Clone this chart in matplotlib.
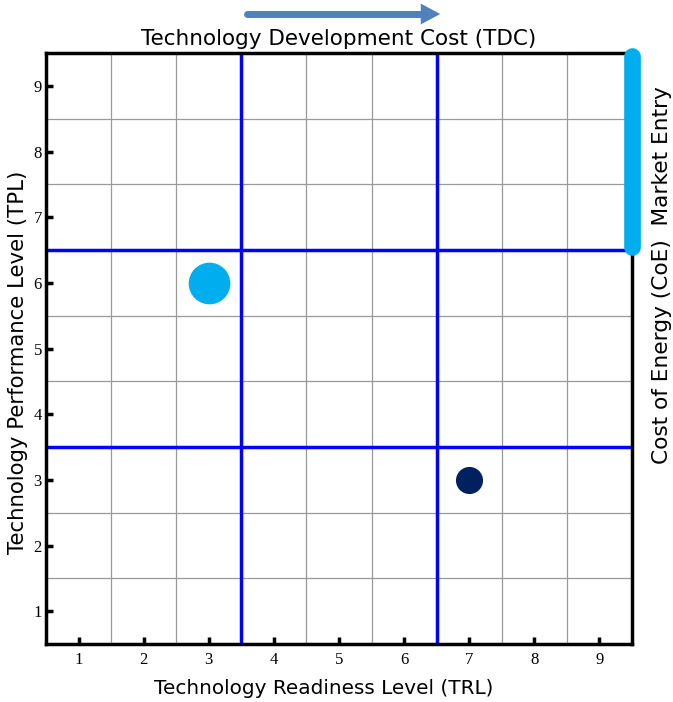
import numpy as np
import matplotlib.pyplot as plt

# data
trl = [3, 7]
tpl = [6, 3]
sizes = [40, 26]          # marker diameters in points
colors = ['#00AEEF', '#002060']
ticks = [1, 2, 3, 4, 5, 6, 7, 8, 9]
grid_pos = [1.5, 2.5, 3.5, 4.5, 5.5, 6.5, 7.5, 8.5]
bounds = [3.5, 6.5]

fig = plt.figure(figsize=(6.73, 7.02), dpi=100)
ax = fig.add_axes([46 / 673, 1 - 644 / 702, 586 / 673, 591 / 702])
ax.set_xlim(0.5, 9.5)
ax.set_ylim(0.5, 9.5)

# grid
for g in grid_pos:
    ax.axvline(g, color='#999999', lw=0.9, zorder=1)
    ax.axhline(g, color='#999999', lw=0.9, zorder=1)
for b in bounds:
    ax.axvline(b, color='#0000FF', lw=2.5, zorder=2)
    ax.axhline(b, color='#0000FF', lw=2.5, zorder=2)

for x, y, s, c in zip(trl, tpl, sizes, colors):
    ax.plot(x, y, 'o', ms=s * 0.75, color=c, mec='none', zorder=3)

for sp in ax.spines.values():
    sp.set_linewidth(2.5)
ax.set_xticks(ticks)
ax.set_yticks(ticks)
ax.tick_params(direction='in', length=5, width=2.5, labelsize=12)
ax.tick_params(axis='x', pad=6)
ax.tick_params(axis='y', pad=3)
for lab in ax.get_xticklabels() + ax.get_yticklabels():
    lab.set_family('Liberation Serif')

# axis labels placed by hand (slightly off-centre in the original)
fig.text(324 / 673, 1 - 688 / 702, 'Technology Readiness Level (TRL)',
         ha='center', va='center', fontsize=14.4)
fig.text(18 / 673, 1 - 362 / 702, 'Technology Performance Level (TPL)',
         rotation=90, ha='center', va='center', fontsize=15.3)
ax.set_title('Technology Development Cost (TDC)', fontsize=15.5, pad=6)

# arrow above title
fig.add_artist(plt.Line2D([247 / 673, 422 / 673], [1 - 14 / 702, 1 - 14 / 702],
                          color='#4F81BD', lw=5, solid_capstyle='round'))
ax.annotate('', xy=(443 / 673, 1 - 14 / 702), xytext=(412 / 673, 1 - 14 / 702),
            xycoords='figure fraction',
            arrowprops=dict(arrowstyle='-|>,head_length=1.4,head_width=0.75',
                            color='#4F81BD', lw=0))

# market entry bar
ax.plot([9.5, 9.5], [9.45, 6.55], color='#00AEEF', lw=12, solid_capstyle='round',
        clip_on=False, zorder=5)

fig.text(662 / 673, 1 - 275 / 702, 'Cost of Energy (CoE)  Market Entry',
         rotation=90, ha='center', va='center', fontsize=15.6)

fig.savefig('out.png', dpi=100)
